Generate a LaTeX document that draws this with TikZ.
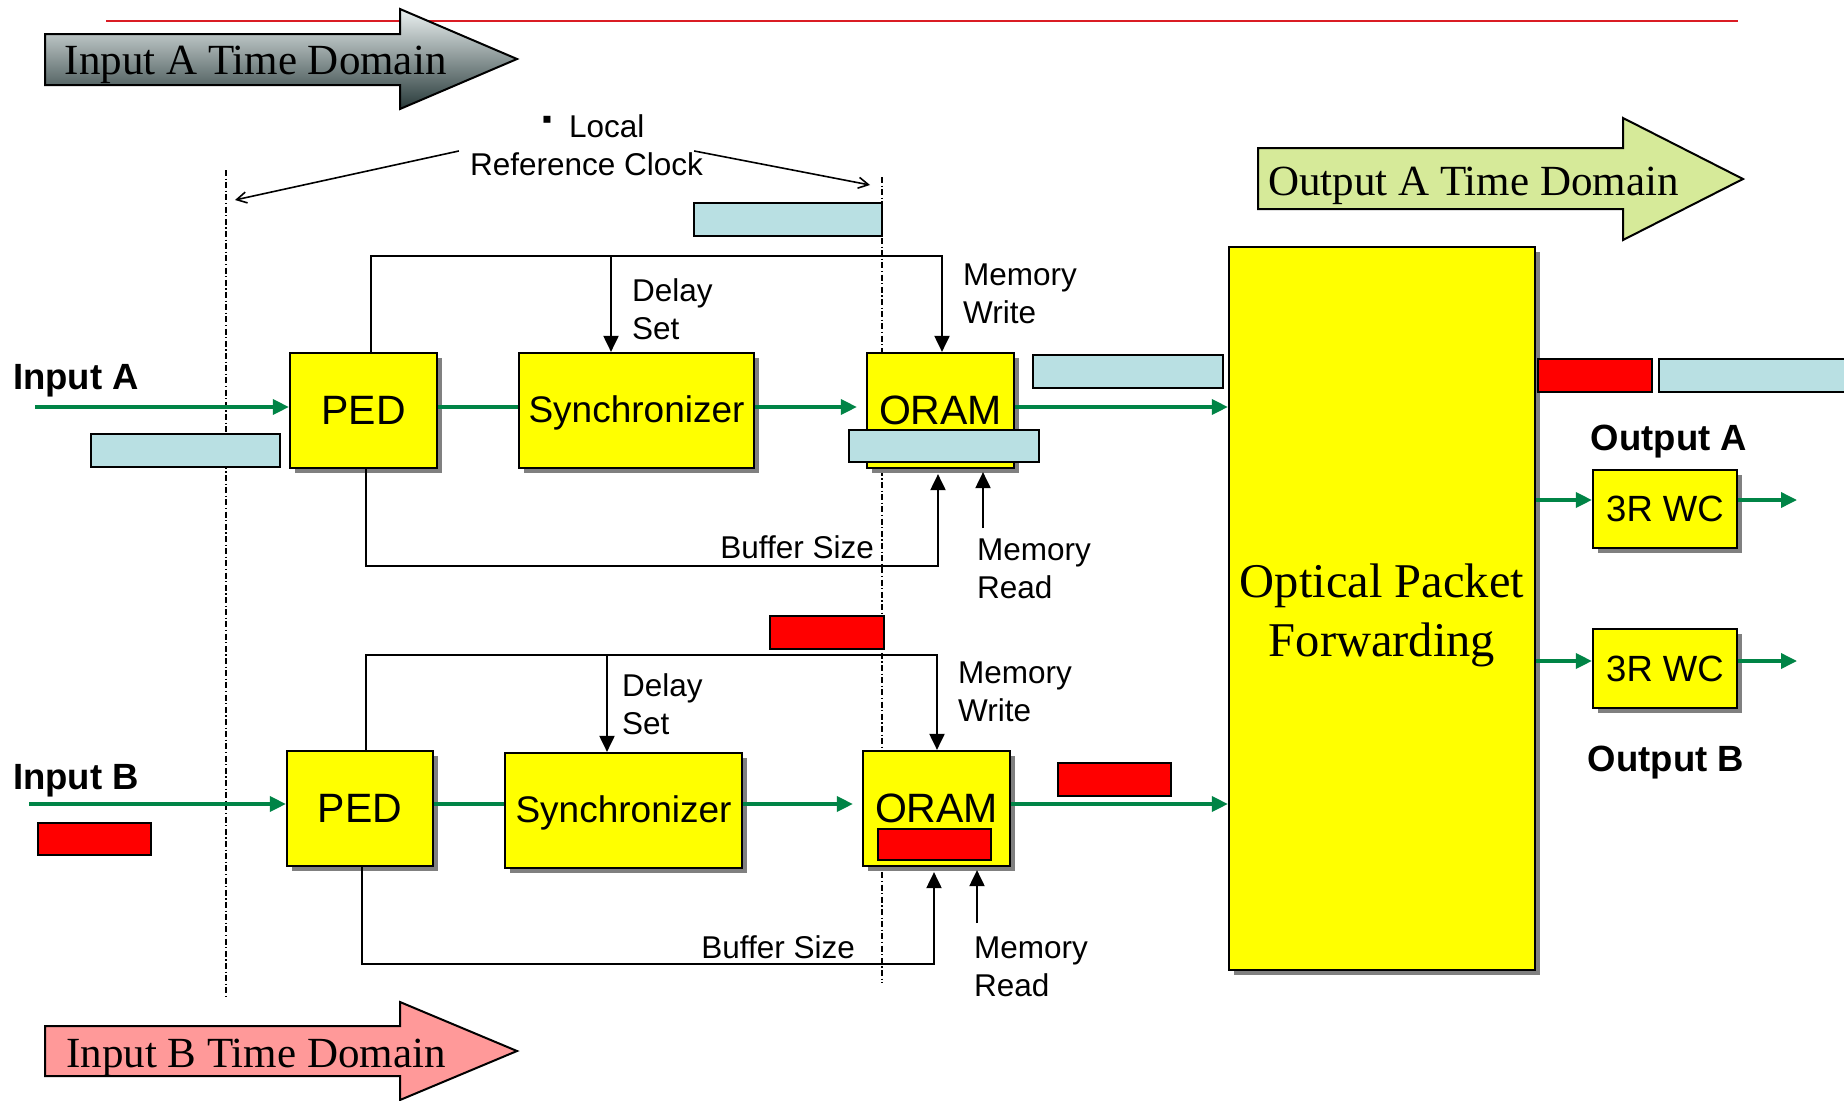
\documentclass[tikz,border=0pt]{standalone}
\usepackage{fontspec}
\setmainfont{Liberation Serif}
\setsansfont{Liberation Sans}
\usetikzlibrary{arrows.meta,shadows,calc}
\definecolor{boxyellow}{RGB}{255,255,0}
\definecolor{pktcyan}{RGB}{185,224,227}
\definecolor{pktred}{RGB}{255,0,0}
\definecolor{flowgreen}{RGB}{0,132,70}
\definecolor{rulered}{RGB}{218,28,36}
\definecolor{outgreen}{RGB}{214,234,153}
\definecolor{inpink}{RGB}{255,153,153}
\definecolor{slatetop}{RGB}{236,242,242}
\definecolor{slatebot}{RGB}{40,58,58}
\begin{document}
\begin{tikzpicture}[x=1pt,y=-1pt,
  blk/.style={draw=black, line width=2.2pt, fill=boxyellow, inner sep=0pt,
    font=\sffamily\fontsize{41}{48}\selectfont,
    drop shadow={shadow xshift=5pt, shadow yshift=-5pt, fill=black!50, opacity=1}},
  pktc/.style={draw=black, line width=2.2pt, fill=pktcyan, inner sep=0pt},
  pktr/.style={draw=black, line width=2.2pt, fill=pktred, inner sep=0pt},
  lbl/.style={font=\sffamily\fontsize{31.5}{38}\selectfont, inner sep=0pt, align=left},
  bold/.style={font=\sffamily\bfseries\fontsize{36.5}{44}\selectfont, inner sep=0pt},
  tdtext/.style={font=\rmfamily\fontsize{43}{50}\selectfont, inner sep=0pt},
  flow/.style={draw=flowgreen, line width=3.5pt, -{Triangle[length=16pt,width=15pt]}},
  flowplain/.style={draw=flowgreen, line width=3.5pt},
  conn/.style={draw=black, line width=2pt},
  conntip/.style={draw=black, line width=2pt, -{Triangle[length=16pt,width=15pt]}},
  clockline/.style={draw=black, line width=1.6pt, dash pattern=on 6pt off 2.5pt on 1.2pt off 2.5pt},
  clkarrow/.style={draw=black, line width=1.6pt, -{Straight Barb[length=10pt,width=11pt,line width=1.6pt]}},
  tdarrow/.style={draw=black, line width=2pt, line join=miter}
]
\clip (0,0) rectangle (1844,1100);
\fill[white] (0,0) rectangle (1844,1100);

% top rule
\draw[rulered, line width=2.5pt] (106,21) -- (1738,21);

% time domain arrows
\path[tdarrow, top color=slatetop, bottom color=slatebot]
  (45,34) -- (400,34) -- (400,9) -- (517,59) -- (400,109) -- (400,85) -- (45,85) -- cycle;
\node[tdtext, anchor=base west] (inAtd) at (64.5,74) {Input A Time Domain};
\path[tdarrow, fill=outgreen]
  (1258,148) -- (1623,148) -- (1623,118) -- (1743,179) -- (1623,240) -- (1623,209) -- (1258,209) -- cycle;
\node[tdtext, anchor=base west] (outAtd) at (1268,195) {Output A Time Domain};
\path[tdarrow, fill=inpink]
  (45,1026) -- (400,1026) -- (400,1002) -- (517,1051) -- (400,1100) -- (400,1076) -- (45,1076) -- cycle;
\node[tdtext, anchor=base west] (inBtd) at (66,1067) {Input B Time Domain};

% clock reference lines
\draw[clockline] (226,170) -- (226,998);
\draw[clockline] (882,177) -- (882,983);

% clock label
\node[lbl, anchor=base west] (local) at (542,137.5) {\raisebox{9pt}{\fontsize{28}{28}\selectfont ▪}\hspace{17pt}Local};
\node[lbl, anchor=base] (refclk) at (586.5,175) {Reference Clock};
\coordinate (clkL) at (235,200);
\coordinate (clkR) at (870,185);
\draw[clkarrow] ($(refclk.north west)+(-11,-1)$) -- (clkL);
\draw[clkarrow] ($(refclk.north east)+(-9,-1)$) -- (clkR);

% blocks
\node[blk, minimum width=147pt, minimum height=115pt] (pedA) at (363.5,410.5) {PED};
\node[blk, minimum width=235pt, minimum height=115pt, font=\sffamily\fontsize{37}{44}\selectfont] (syncA) at (636.5,410.5) {\rule{0pt}{32pt}Synchronizer};
\node[blk, minimum width=147pt, minimum height=115pt] (oramA) at (940.5,410.5) {ORAM};
\node[blk, minimum width=146pt, minimum height=115pt] (pedB) at (360,808.5) {PED};
\node[blk, minimum width=237pt, minimum height=115pt, font=\sffamily\fontsize{37}{44}\selectfont] (syncB) at (623.5,810.5) {\rule{0pt}{32pt}Synchronizer};
\node[blk, minimum width=147pt, minimum height=115pt] (oramB) at (936.5,808.5) {ORAM};
\node[blk, minimum width=306pt, minimum height=723pt, align=center, font=\rmfamily\fontsize{48.5}{59}\selectfont] (opf) at (1382,608.5) {\rule{0pt}{48pt}Optical Packet\\Forwarding};
\node[blk, minimum width=144pt, minimum height=78pt, font=\sffamily\fontsize{36.5}{44}\selectfont] (wcA) at (1665,509) {3R WC};
\node[blk, minimum width=144pt, minimum height=79pt, font=\sffamily\fontsize{36.5}{44}\selectfont] (wcB) at (1665,668.5) {3R WC};

% packets
\node[pktc, minimum width=188pt, minimum height=33pt] (pk1) at (788,219.5) {};
\node[pktc, minimum width=189pt, minimum height=33pt] (pk2) at (185.5,450.5) {};
\node[pktc, minimum width=190pt, minimum height=32pt] (pk3) at (944,446) {};
\node[pktc, minimum width=190pt, minimum height=33pt] (pk4) at (1128,371.5) {};
\node[pktr, minimum width=114pt, minimum height=33pt] (pk5) at (827,632.5) {};
\node[pktr, minimum width=113pt, minimum height=31pt] (pk6) at (934.5,844.5) {};
\node[pktr, minimum width=113pt, minimum height=33pt] (pk7) at (1114.5,779.5) {};
\node[pktr, minimum width=113pt, minimum height=32pt] (pk8) at (94.5,839) {};
\node[pktr, minimum width=114pt, minimum height=33pt] (pk9) at (1595,375.5) {};
\node[pktc, minimum width=200pt, minimum height=33pt] (pk10) at (1759,375.5) {};

% rows
\coordinate (rowA) at (0,407);
\coordinate (rowB) at (0,804);
\coordinate (rowWA) at (0,500);
\coordinate (rowWB) at (0,661);
\coordinate (inAstart) at (35,407);
\coordinate (inBstart) at (29,804);
\coordinate (outAend) at (1797,500);
\coordinate (outBend) at (1797,661);

% green flows
\draw[flow] (inAstart) -- (pedA.west |- rowA);
\draw[flowplain] (pedA.east |- rowA) -- (syncA.west |- rowA);
\draw[flow, shorten >=9pt] (syncA.east |- rowA) -- (oramA.west |- rowA);
\draw[flow] (oramA.east |- rowA) -- (opf.west |- rowA);
\draw[flow] (inBstart) -- (pedB.west |- rowB);
\draw[flowplain] (pedB.east |- rowB) -- (syncB.west |- rowB);
\draw[flow, shorten >=9pt] (syncB.east |- rowB) -- (oramB.west |- rowB);
\draw[flow] (oramB.east |- rowB) -- (opf.west |- rowB);
\draw[flow] (opf.east |- rowWA) -- (wcA.west |- rowWA);
\draw[flow] (wcA.east |- rowWA) -- (outAend);
\draw[flow] (opf.east |- rowWB) -- (wcB.west |- rowWB);
\draw[flow] (wcB.east |- rowWB) -- (outBend);

% control connectors A
\coordinate (topA) at (0,256);
\coordinate (botA) at (0,566);
\coordinate (mrAs) at (983,528);
\draw[conntip] ($(pedA.north)+(7.5,0)$) |- ($(oramA.north |- topA)+(1.5,0)$) -- ($(oramA.north)+(1.5,0)$);
\draw[conntip] ($(syncA.north |- topA)+(-25.5,0)$) -- ($(syncA.north)+(-25.5,0)$);
\draw[conntip] ($(pedA.south)+(2.5,0)$) |- ($(oramA.south |- botA)+(-2.5,0)$) -- ($(oramA.south)+(-2.5,5)$);
\draw[conntip] (mrAs) -- ($(mrAs |- oramA.south)+(0,3)$);

% control connectors B
\coordinate (topB) at (0,655);
\coordinate (botB) at (0,964);
\coordinate (mrBs) at (977,923);
\draw[conntip] ($(pedB.north)+(6,0)$) |- ($(oramB.north |- topB)+(0.5,0)$) -- ($(oramB.north)+(0.5,0)$);
\draw[conntip] ($(syncB.north |- topB)+(-16.5,0)$) -- ($(syncB.north)+(-16.5,0)$);
\draw[conntip] ($(pedB.south)+(2,0)$) |- ($(oramB.south |- botB)+(-2.5,0)$) -- ($(oramB.south)+(-2.5,5)$);
\draw[conntip] (mrBs) -- ($(mrBs |- oramB.south)+(0,3)$);

% labels
\node[bold, anchor=west] (inA) at (13,381) {Input A};
\node[bold, anchor=west] (inB) at (13,780.5) {Input B};
\node[bold] (outA) at (1669,442) {Output A};
\node[bold] (outB) at (1666,763) {Output B};
\node[lbl, anchor=west] (dsA) at (632,309) {Delay\\Set};
\node[lbl, anchor=west] (mwA) at (963,294) {Memory\\Write};
\node[lbl, anchor=west] (mrA) at (977,569) {Memory\\Read};
\node[lbl, anchor=east] (bsA) at (874,547) {Buffer Size};
\node[lbl, anchor=west] (dsB) at (622,704.5) {Delay\\Set};
\node[lbl, anchor=west] (mwB) at (958,691.5) {Memory\\Write};
\node[lbl, anchor=west] (mrB) at (974,966.5) {Memory\\Read};
\node[lbl, anchor=east] (bsB) at (855,947) {Buffer Size};
\end{tikzpicture}
\end{document}
